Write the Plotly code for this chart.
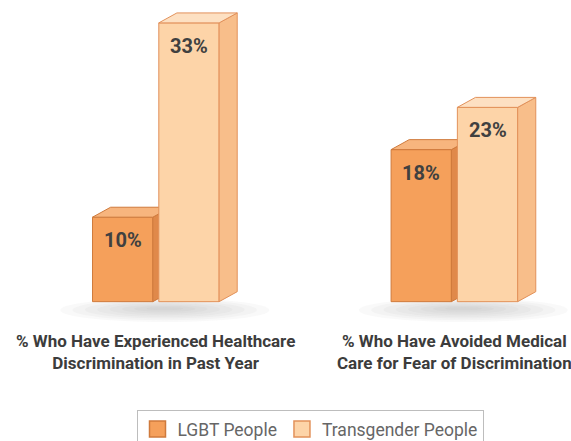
import plotly.graph_objects as go

# ---- data ----
categories = ["% Who Have Experienced Healthcare<br>Discrimination in Past Year",
              "% Who Have Avoided Medical<br>Care for Fear of Discrimination"]
series_names = ["LGBT People", "Transgender People"]
lgbt_values = [10, 18]
trans_values = [33, 23]

# ---- styles ----
FONT = "Roboto, sans-serif"
styles = [
    dict(front="#F5A05B", side="#E0894A", top="#F7B57E", line="#CF7A3C"),
    dict(front="#FDD4A8", side="#F8BE8A", top="#FDE0C2", line="#E2915A"),
]
BAR_W = 0.202
GAP = 0.020
DX = 0.0606   # depth in x units
DY = 1.18     # depth in y units
XR = [-155 / 297, 1 + 116 / 297]
YR = [-3, 35]

fig = go.Figure()
x_pos = list(range(len(categories)))
axes = [("x", "y"), ("x2", "y2")]
offsets = [-BAR_W - GAP / 2, GAP / 2]

for si, (name, vals) in enumerate(zip(series_names, [lgbt_values, trans_values])):
    st = styles[si]
    xa, ya = axes[si]
    fig.add_trace(go.Bar(
        x=x_pos, y=vals, width=BAR_W, offset=offsets[si],
        marker=dict(color=st["front"], line=dict(color=st["line"], width=1)),
        name=name, showlegend=False, hoverinfo="skip", xaxis=xa, yaxis=ya,
    ))
    for xi, v in zip(x_pos, vals):
        x0 = xi + offsets[si]
        x1 = x0 + BAR_W
        # side face
        fig.add_trace(go.Scatter(
            x=[x1, x1 + DX, x1 + DX, x1, x1], y=[0, DY, v + DY, v, 0],
            fill="toself", fillcolor=st["side"], mode="lines",
            line=dict(color=st["line"], width=1), showlegend=False,
            hoverinfo="skip", xaxis=xa, yaxis=ya))
        # top face
        fig.add_trace(go.Scatter(
            x=[x0, x0 + DX, x1 + DX, x1, x0], y=[v, v + DY, v + DY, v, v],
            fill="toself", fillcolor=st["top"], mode="lines",
            line=dict(color=st["line"], width=1), showlegend=False,
            hoverinfo="skip", xaxis=xa, yaxis=ya))
        fig.add_annotation(x=x0 + BAR_W / 2, y=v, xref=xa, yref=ya, yshift=-23,
                           text=f"{v}%", showarrow=False,
                           font=dict(family=FONT, size=20, color="#404040", weight="bold"))
    # legend entry
    fig.add_trace(go.Scatter(
        x=[None], y=[None], mode="markers", name=name,
        marker=dict(symbol="square", size=16, color=st["front"],
                    line=dict(color=st["line"], width=1.5)),
        xaxis=xa, yaxis=ya))

# soft shadows under each group
for xi in x_pos:
    cx = xi + 0.03
    n = 8
    for k in range(n):
        f = 1 - k / n
        fig.add_shape(type="circle", xref="x", yref="y", layer="below",
                      x0=cx - 0.33 * f - 0.02, x1=cx + 0.33 * f + 0.02,
                      y0=-0.8 - 1.6 * f, y1=-0.8 + 1.2 * f,
                      fillcolor="#8a8a8a", opacity=0.055, line=dict(width=0))

# category labels
for xi, lab in zip(x_pos, categories):
    fig.add_annotation(x=xi, y=0, xref="x", yref="y", yanchor="top", yshift=-27,
                       text=lab, showarrow=False,
                       font=dict(family=FONT, size=17, color="#3c3c3c", weight="bold"))

ax_common = dict(visible=False, showgrid=False, zeroline=False, fixedrange=True)
fig.update_layout(
    width=571, height=441,
    margin=dict(l=0, r=0, t=6, b=114, autoexpand=False),
    paper_bgcolor="white", plot_bgcolor="white",
    xaxis=dict(range=XR, **ax_common),
    yaxis=dict(range=YR, **ax_common),
    xaxis2=dict(range=XR, overlaying="x", **ax_common),
    yaxis2=dict(range=YR, overlaying="y", **ax_common),
    showlegend=True,
    hovermode=False,
    legend=dict(orientation="h", x=310 / 571, xanchor="center", y=-(410 - 327) / 321, yanchor="top",
                bordercolor="#bdbdbd", borderwidth=1, bgcolor="white",
                font=dict(family=FONT, size=17.5, color="#666666"),
                itemsizing="trace", tracegroupgap=0),
)

fig.write_html("out.html", config={"displayModeBar": False},
               post_script="document.body.style.margin='0';")
